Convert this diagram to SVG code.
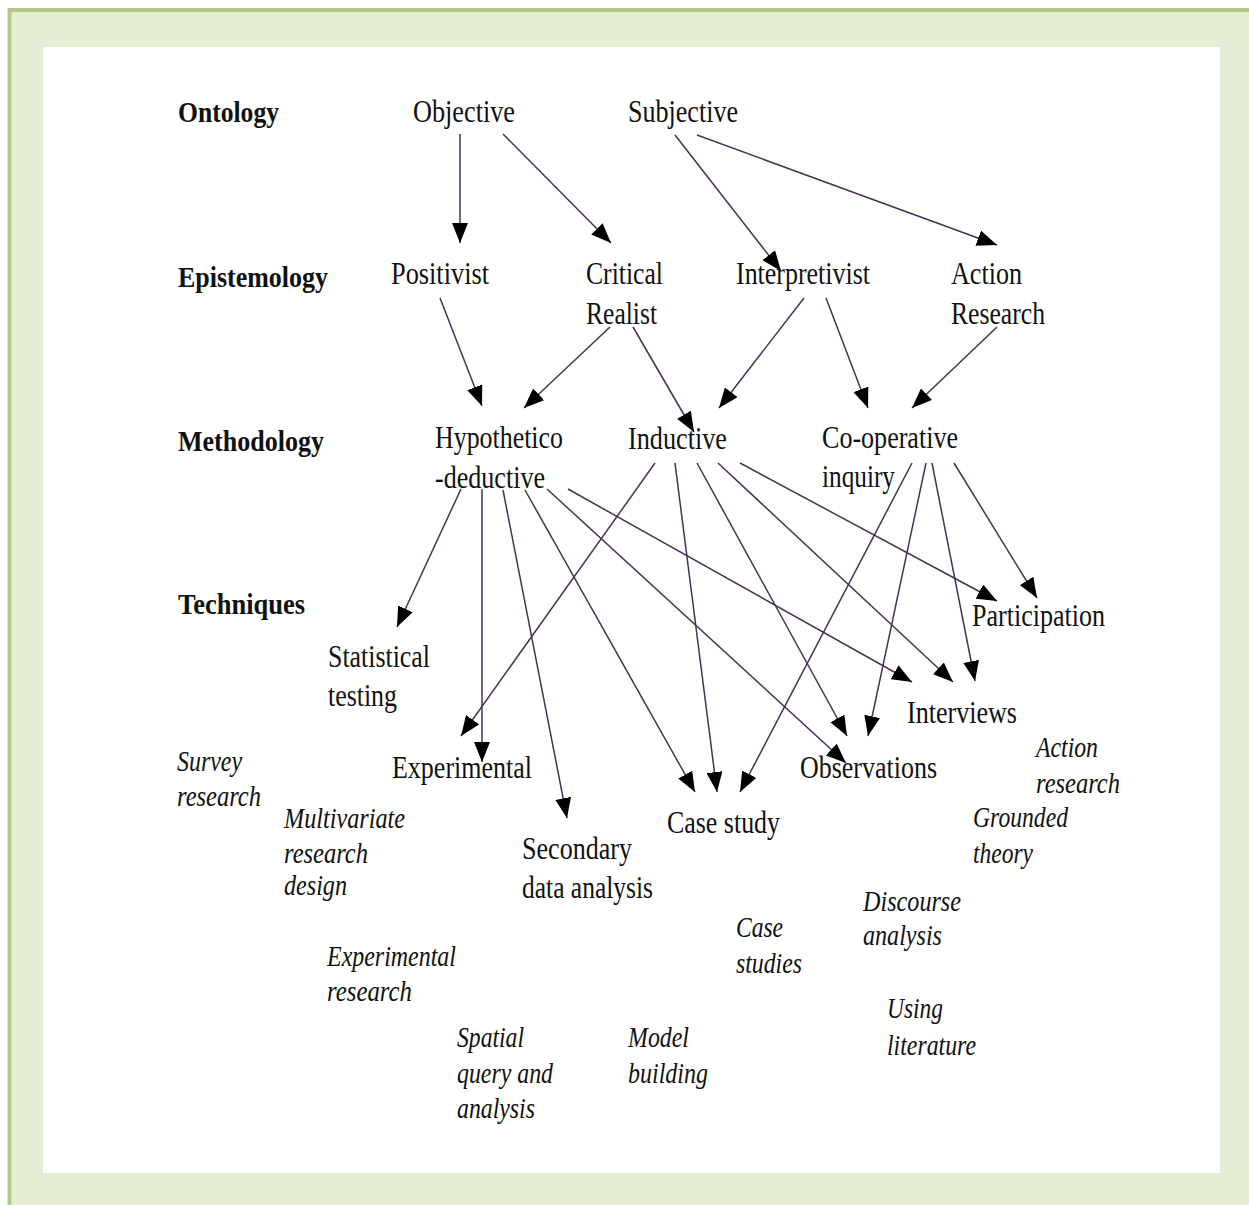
<svg xmlns="http://www.w3.org/2000/svg" width="1249" height="1205" viewBox="0 0 1249 1205">
<style>
text{font-family:"Liberation Serif","Times New Roman",serif;fill:#111}
.h{font-size:30px;font-weight:bold}
.r{font-size:31px}
.i{font-size:29px;font-style:italic}
.c line{stroke:#4a3052;stroke-width:1.5;marker-end:url(#ah)}
</style>
<defs>
<marker id="ah" markerUnits="userSpaceOnUse" markerWidth="20" markerHeight="16" refX="20" refY="8" orient="auto" viewBox="0 0 20 16">
<path d="M0,0 L20,8 L0,16 z" fill="#000"/>
</marker>
</defs>
<rect x="0" y="0" width="1249" height="1205" fill="#fff"/>
<rect x="9.5" y="10" width="1270" height="1230" fill="#E5EDD5" stroke="#B3CA86" stroke-width="4"/>
<rect x="43" y="47" width="1177" height="1126" fill="#fff"/>

<g id="labels">
<g id="lbl-ontology"><text class="h" x="178" y="122" textLength="101" lengthAdjust="spacingAndGlyphs">Ontology</text></g>
<g id="lbl-epistemology"><text class="h" x="178" y="287" textLength="150" lengthAdjust="spacingAndGlyphs">Epistemology</text></g>
<g id="lbl-methodology"><text class="h" x="178" y="451" textLength="146" lengthAdjust="spacingAndGlyphs">Methodology</text></g>
<g id="lbl-techniques"><text class="h" x="178" y="614" textLength="127" lengthAdjust="spacingAndGlyphs">Techniques</text></g>
</g>

<g id="n-objective"><text class="r" x="413" y="122" textLength="102" lengthAdjust="spacingAndGlyphs">Objective</text></g>
<g id="n-subjective"><text class="r" x="628" y="122" textLength="110" lengthAdjust="spacingAndGlyphs">Subjective</text></g>

<g id="n-positivist"><text class="r" x="391" y="284" textLength="98" lengthAdjust="spacingAndGlyphs">Positivist</text></g>
<g id="n-critical-realist"><text class="r" x="586" y="284" textLength="77" lengthAdjust="spacingAndGlyphs">Critical</text><text class="r" x="586" y="324" textLength="71" lengthAdjust="spacingAndGlyphs">Realist</text></g>
<g id="n-interpretivist"><text class="r" x="736" y="284" textLength="134" lengthAdjust="spacingAndGlyphs">Interpretivist</text></g>
<g id="n-action-research"><text class="r" x="951" y="284" textLength="71" lengthAdjust="spacingAndGlyphs">Action</text><text class="r" x="951" y="324" textLength="94" lengthAdjust="spacingAndGlyphs">Research</text></g>

<g id="n-hypothetico"><text class="r" x="435" y="448" textLength="128" lengthAdjust="spacingAndGlyphs">Hypothetico</text><text class="r" x="435" y="488" textLength="110" lengthAdjust="spacingAndGlyphs">-deductive</text></g>
<g id="n-inductive"><text class="r" x="628" y="449" textLength="99" lengthAdjust="spacingAndGlyphs">Inductive</text></g>
<g id="n-cooperative"><text class="r" x="822" y="448" textLength="136" lengthAdjust="spacingAndGlyphs">Co-operative</text><text class="r" x="822" y="487" textLength="73" lengthAdjust="spacingAndGlyphs">inquiry</text></g>

<g id="n-participation"><text class="r" x="972" y="626" textLength="133" lengthAdjust="spacingAndGlyphs">Participation</text></g>
<g id="n-statistical"><text class="r" x="328" y="667" textLength="102" lengthAdjust="spacingAndGlyphs">Statistical</text><text class="r" x="328" y="706" textLength="69" lengthAdjust="spacingAndGlyphs">testing</text></g>
<g id="n-interviews"><text class="r" x="907" y="723" textLength="110" lengthAdjust="spacingAndGlyphs">Interviews</text></g>
<g id="n-experimental"><text class="r" x="392" y="778" textLength="140" lengthAdjust="spacingAndGlyphs">Experimental</text></g>
<g id="n-observations"><text class="r" x="800" y="778" textLength="137" lengthAdjust="spacingAndGlyphs">Observations</text></g>
<g id="n-casestudy"><text class="r" x="667" y="833" textLength="113" lengthAdjust="spacingAndGlyphs">Case study</text></g>
<g id="n-secondary"><text class="r" x="522" y="859" textLength="110" lengthAdjust="spacingAndGlyphs">Secondary</text><text class="r" x="522" y="898" textLength="131" lengthAdjust="spacingAndGlyphs">data analysis</text></g>

<g id="n-survey"><text class="i" x="177" y="771" textLength="65" lengthAdjust="spacingAndGlyphs">Survey</text><text class="i" x="177" y="806" textLength="84" lengthAdjust="spacingAndGlyphs">research</text></g>
<g id="n-multivariate"><text class="i" x="284" y="828" textLength="121" lengthAdjust="spacingAndGlyphs">Multivariate</text><text class="i" x="284" y="863" textLength="84" lengthAdjust="spacingAndGlyphs">research</text><text class="i" x="284" y="895" textLength="63" lengthAdjust="spacingAndGlyphs">design</text></g>
<g id="n-experimental-research"><text class="i" x="327" y="966" textLength="129" lengthAdjust="spacingAndGlyphs">Experimental</text><text class="i" x="327" y="1001" textLength="85" lengthAdjust="spacingAndGlyphs">research</text></g>
<g id="n-spatial"><text class="i" x="457" y="1047" textLength="67" lengthAdjust="spacingAndGlyphs">Spatial</text><text class="i" x="457" y="1083" textLength="96" lengthAdjust="spacingAndGlyphs">query and</text><text class="i" x="457" y="1118" textLength="78" lengthAdjust="spacingAndGlyphs">analysis</text></g>
<g id="n-model"><text class="i" x="628" y="1047" textLength="61" lengthAdjust="spacingAndGlyphs">Model</text><text class="i" x="628" y="1083" textLength="80" lengthAdjust="spacingAndGlyphs">building</text></g>
<g id="n-case-studies"><text class="i" x="736" y="937" textLength="47" lengthAdjust="spacingAndGlyphs">Case</text><text class="i" x="736" y="973" textLength="66" lengthAdjust="spacingAndGlyphs">studies</text></g>
<g id="n-discourse"><text class="i" x="863" y="911" textLength="98" lengthAdjust="spacingAndGlyphs">Discourse</text><text class="i" x="863" y="945" textLength="79" lengthAdjust="spacingAndGlyphs">analysis</text></g>
<g id="n-using-literature"><text class="i" x="887" y="1018" textLength="56" lengthAdjust="spacingAndGlyphs">Using</text><text class="i" x="887" y="1055" textLength="89" lengthAdjust="spacingAndGlyphs">literature</text></g>
<g id="n-action-research-t"><text class="i" x="1036" y="757" textLength="62" lengthAdjust="spacingAndGlyphs">Action</text><text class="i" x="1036" y="793" textLength="84" lengthAdjust="spacingAndGlyphs">research</text></g>
<g id="n-grounded"><text class="i" x="973" y="827" textLength="95" lengthAdjust="spacingAndGlyphs">Grounded</text><text class="i" x="973" y="863" textLength="60" lengthAdjust="spacingAndGlyphs">theory</text></g>

<g id="connectors" class="c">
<line x1="460" y1="134" x2="460" y2="243"/>
<line x1="503" y1="134" x2="611" y2="243"/>
<line x1="675" y1="135" x2="781" y2="271"/>
<line x1="697" y1="135" x2="997" y2="245"/>
<line x1="440" y1="298" x2="482" y2="406"/>
<line x1="610" y1="327" x2="524" y2="408"/>
<line x1="633" y1="327" x2="694" y2="432"/>
<line x1="804" y1="298" x2="719" y2="408"/>
<line x1="826" y1="298" x2="868" y2="408"/>
<line x1="997" y1="327" x2="912" y2="408"/>
<line x1="461" y1="489" x2="397" y2="627"/>
<line x1="482" y1="489" x2="482" y2="762"/>
<line x1="503" y1="490" x2="567" y2="818"/>
<line x1="525" y1="490" x2="695" y2="792"/>
<line x1="547" y1="489" x2="846" y2="763"/>
<line x1="568" y1="489" x2="912" y2="682"/>
<line x1="655" y1="463" x2="461" y2="736"/>
<line x1="675" y1="463" x2="717" y2="792"/>
<line x1="697" y1="463" x2="847" y2="736"/>
<line x1="718" y1="463" x2="953" y2="682"/>
<line x1="740" y1="463" x2="997" y2="601"/>
<line x1="912" y1="463" x2="740" y2="792"/>
<line x1="926" y1="463" x2="868" y2="736"/>
<line x1="932" y1="463" x2="975" y2="681"/>
<line x1="954" y1="463" x2="1037" y2="598"/>
</g>
</svg>
